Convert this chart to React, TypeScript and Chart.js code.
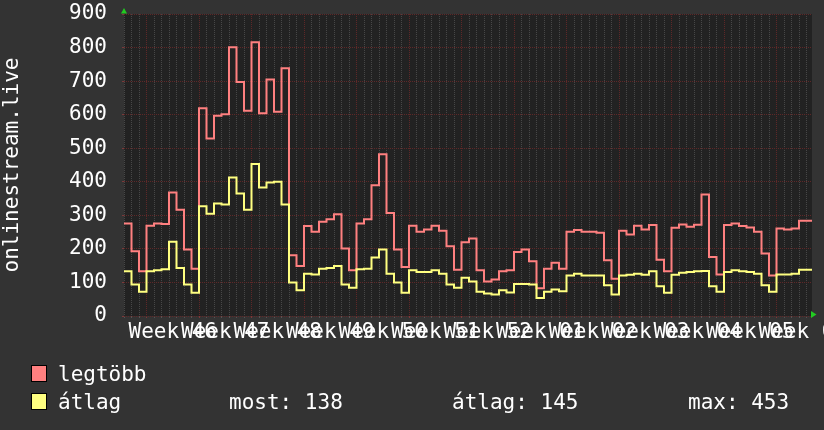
import React, { useEffect, useRef } from 'react';
import { Chart, registerables } from 'chart.js';

Chart.register(...registerables);

// ---- data (daily values, step lines) ----
const legtobb = [
  276, 193, 133, 269, 276, 274, 368, 317, 198, 141,
  619, 529, 597, 601, 801, 697, 612, 816, 604, 705,
  609, 738, 181, 149, 268, 251, 281, 288, 303, 201,
  136, 276, 288, 390, 482, 307, 198, 146, 269, 251,
  258, 269, 254, 208, 138, 220, 231, 136, 103, 109,
  133, 136, 191, 198, 163, 83, 141, 159, 141, 251,
  256, 251, 251, 248, 166, 111, 254, 243, 269, 258,
  271, 168, 133, 263, 273, 266, 272, 362, 176, 124,
  271, 276, 268, 264, 251, 186, 121, 261, 258, 261,
  284, 284,
];
const atlag = [
  133, 94, 72, 133, 136, 139, 221, 143, 94, 69,
  327, 305, 335, 332, 413, 365, 317, 453, 383, 398,
  400, 332, 100, 77, 126, 124, 141, 143, 149, 94,
  84, 139, 141, 174, 198, 126, 100, 69, 136, 131,
  131, 136, 126, 94, 84, 114, 103, 72, 67, 64,
  77, 70, 95, 95, 94, 54, 72, 79, 74, 121,
  126, 121, 121, 121, 92, 64, 121, 123, 126, 123,
  133, 89, 69, 123, 129, 131, 133, 134, 89, 72,
  131, 136, 133, 131, 126, 92, 72, 124, 124, 126,
  138, 138,
];
const weekLabels = [
  'Week 46', 'Week 47', 'Week 48', 'Week 49', 'Week 50', 'Week 51', 'Week 52',
  'Week 01', 'Week 02', 'Week 03', 'Week 04', 'Week 05', 'Week 06',
];
const yTickValues = [0, 100, 200, 300, 400, 500, 600, 700, 800, 900];
const seriesNames = ['legtöbb', 'átlag'];
const yTitle = 'onlinestream.live';
const statLast = 138;
const statAvg = 145;
const statMax = 453;

const FIRST_WEEK_START = 3; // day index of first week boundary
const X_MAX = 91.733; // visible span in days
const Y_MAX = 900;

const FONT = "'DejaVu Sans Mono', monospace";
const FSIZE = 21;
const RED = '#ff8080';
const YELLOW = '#ffff80';
const GRID = '#474747';
const MGRID = '#5e2828';
const TICK = '#555555';
const MTICK = '#7a3a3a';
const BACK = '#333333';
const CANVAS = '#222222';

const toSteps = (arr: number[]) => {
  const pts = arr.map((v, i) => ({ x: i, y: v }));
  pts.push({ x: X_MAX, y: arr[arr.length - 1] });
  return pts;
};

const isMajorDay = (v: number) => (v - FIRST_WEEK_START) % 7 === 0;

const noPad = (s: any) => {
  s.paddingLeft = 0;
  s.paddingRight = 0;
  s.paddingTop = 0;
  s.paddingBottom = 0;
};

const bgPlugin = {
  id: 'bg',
  beforeDraw(chart: any) {
    const { ctx, chartArea } = chart;
    ctx.save();
    ctx.fillStyle = BACK;
    ctx.fillRect(0, 0, chart.width, chart.height);
    ctx.fillStyle = CANVAS;
    ctx.fillRect(chartArea.left, chartArea.top, chartArea.right - chartArea.left, chartArea.bottom - chartArea.top);
    ctx.restore();
  },
  afterDraw(chart: any) {
    const { ctx, chartArea } = chart;
    ctx.save();
    // arrows
    ctx.fillStyle = '#22cc22';
    ctx.beginPath();
    ctx.moveTo(chartArea.left - 3, chartArea.top - 0.5);
    ctx.lineTo(chartArea.left + 3, chartArea.top - 0.5);
    ctx.lineTo(chartArea.left, chartArea.top - 6);
    ctx.closePath();
    ctx.fill();
    ctx.beginPath();
    ctx.moveTo(chartArea.right - 1, chartArea.bottom - 5);
    ctx.lineTo(chartArea.right - 1, chartArea.bottom + 2);
    ctx.lineTo(chartArea.right + 4.5, chartArea.bottom - 1.5);
    ctx.closePath();
    ctx.fill();

    // legend
    ctx.font = `${FSIZE}px ${FONT}`;
    ctx.textBaseline = 'alphabetic';
    ctx.textAlign = 'left';
    const rows = [
      { color: RED, y: 366, label: seriesNames[0] },
      { color: YELLOW, y: 394, label: seriesNames[1] },
    ];
    rows.forEach((r) => {
      ctx.fillStyle = r.color;
      ctx.fillRect(32, r.y, 14, 15);
      ctx.strokeStyle = '#000000';
      ctx.lineWidth = 1;
      ctx.strokeRect(31.5, r.y - 0.5, 15, 16);
      ctx.fillStyle = '#ffffff';
      ctx.fillText(r.label, 58, r.y + 15);
    });
    ctx.fillStyle = '#ffffff';
    ctx.fillText(`most: ${statLast}`, 229, 409);
    ctx.fillText(`átlag: ${statAvg}`, 452, 409);
    ctx.fillText(`max: ${statMax}`, 688, 409);
    ctx.restore();
  },
};

export default function App() {
  const ref = useRef<HTMLCanvasElement>(null);
  useEffect(() => {
    document.body.style.margin = '0';
    const canvas = ref.current!;
    const dayTicks = legtobb.map((_, i) => i);
    const yTicks: number[] = [];
    for (let v = 0; v <= Y_MAX; v += 20) yTicks.push(v);
    const chart = new Chart(canvas, {
      type: 'line',
      data: {
        datasets: [
          {
            label: seriesNames[1],
            data: toSteps(atlag),
            borderColor: YELLOW,
            borderWidth: 2,
            pointRadius: 0,
            stepped: true,
            fill: false,
            order: 0,
          },
          {
            label: seriesNames[0],
            data: toSteps(legtobb),
            borderColor: RED,
            borderWidth: 2,
            pointRadius: 0,
            stepped: true,
            fill: false,
            order: 1,
          },
        ],
      },
      options: {
        responsive: false,
        animation: false,
        events: [],
        parsing: false,
        layout: { autoPadding: false, padding: { left: 0, right: 12, top: 14, bottom: 0 } },
        plugins: { legend: { display: false }, tooltip: { enabled: false } },
        scales: {
          x: {
            type: 'linear',
            position: 'bottom',
            min: 0,
            max: X_MAX,
            afterBuildTicks: (s: any) => {
              s.ticks = dayTicks.map((v) => ({ value: v }));
            },
            afterFit: (s: any) => {
              s.height = 0;
              noPad(s);
            },
            ticks: { display: false },
            grid: {
              color: (c: any) => (c.tick && isMajorDay(c.tick.value) ? MGRID : GRID),
              tickColor: (c: any) => (c.tick && isMajorDay(c.tick.value) ? MTICK : TICK),
              tickLength: (c: any) => (c.tick && isMajorDay(c.tick.value) ? 3 : 2),
              lineWidth: 1,
              drawTicks: true,
              borderDash: [1, 1],
            },
            border: { display: false, dash: [1, 1] },
          },
          x2: {
            type: 'linear',
            position: 'bottom',
            min: 0,
            max: X_MAX,
            afterBuildTicks: (s: any) => {
              s.ticks = weekLabels.map((_, j) => ({ value: FIRST_WEEK_START + 7 * j + 3.5 }));
            },
            afterFit: (s: any) => {
              s.height = 114;
              noPad(s);
            },
            ticks: {
              autoSkip: false,
              maxRotation: 0,
              minRotation: 0,
              color: '#ffffff',
              font: { family: FONT, size: FSIZE },
              padding: 4,
              callback: (_v: any, i: number) => weekLabels[i],
            },
            grid: { display: false, drawTicks: false },
            border: { display: false },
          },
          y: {
            type: 'linear',
            position: 'left',
            min: 0,
            max: Y_MAX,
            afterBuildTicks: (s: any) => {
              s.ticks = yTicks.map((v) => ({ value: v }));
            },
            afterFit: (s: any) => {
              s.width = 124;
              noPad(s);
            },
            ticks: {
              color: '#ffffff',
              font: { family: FONT, size: FSIZE },
              padding: 15,
              callback: (v: any) => (yTickValues.includes(v) ? String(v) : ''),
            },
            grid: {
              color: (c: any) => (c.tick && c.tick.value % 100 === 0 ? MGRID : GRID),
              tickColor: (c: any) => (c.tick && c.tick.value % 100 === 0 ? MTICK : TICK),
              tickLength: 2,
              lineWidth: 1,
              drawTicks: true,
              borderDash: [1, 1],
            },
            border: { display: false, dash: [1, 1] },
            title: {
              display: true,
              text: yTitle,
              color: '#ffffff',
              font: { family: FONT, size: FSIZE },
              padding: 0,
            },
          },
        },
      },
      plugins: [bgPlugin],
    } as any);
    return () => chart.destroy();
  }, []);
  return (
    <div style={{ position: 'absolute', left: 0, top: 0, width: 824, height: 430, background: BACK }}>
      <canvas ref={ref} width={824} height={430} style={{ display: 'block', width: 824, height: 430 }} />
    </div>
  );
}
